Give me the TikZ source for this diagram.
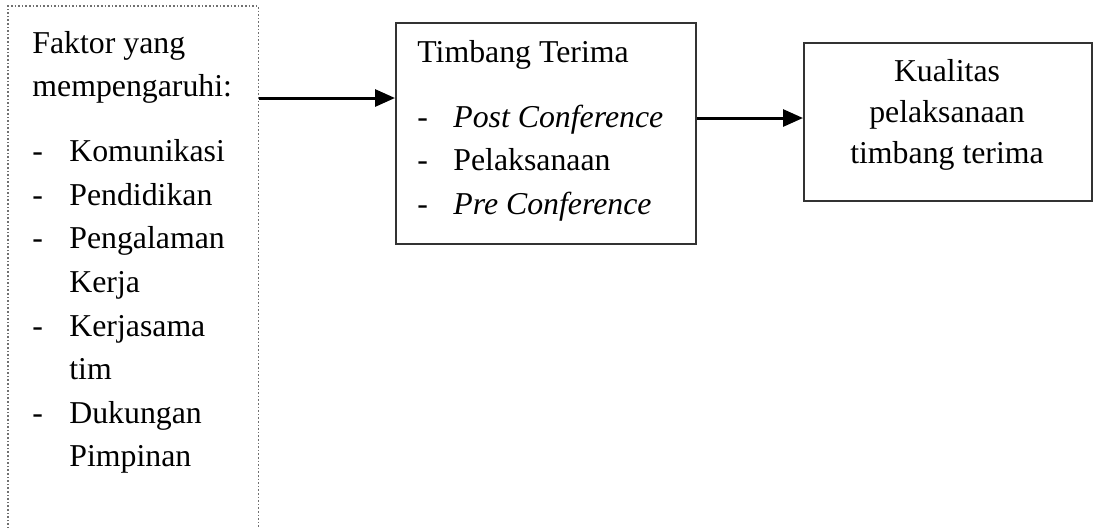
\documentclass[tikz,border=0pt]{standalone}
\usepackage{fontspec}
\setmainfont{Liberation Serif}
\usetikzlibrary{arrows.meta}
\definecolor{garis}{HTML}{333333}
\definecolor{titik}{HTML}{707070}
\newcommand{\isi}{\fontsize{15.9}{21.8}\selectfont}
\newcommand{\isikanan}{\fontsize{15.9}{20.7}\selectfont}
\tikzset{
  kotak/.style={draw=garis, line width=0.75pt, anchor=north west, inner sep=0pt},
  kotaktitik/.style={densely dotted, draw=titik, line width=0.8pt},
  panah/.style={-{Triangle[length=10pt,width=8.5pt]}, line width=1.5pt, draw=black},
  teks/.style={anchor=base west, inner sep=0pt, font=\isi}
}

\begin{document}
\begin{tikzpicture}[x=0.5pt,y=-0.5pt]
  \useasboundingbox (0,0) rectangle (1093,527);
  % kotak
  \node[kotak, draw=none, minimum width=124.5pt, minimum height=260.5pt] (faktor) at (8,6) {};
  \draw[kotaktitik] (faktor.south west) -- (faktor.north west) -- (faktor.north east) -- (faktor.south east);
  \node[kotak, minimum width=150pt, minimum height=110.5pt] (timbang) at (395,22) {};
  \node[kotak, minimum width=144pt, minimum height=79pt] (kualitas) at (803,42) {};
  % isi kotak
  \node[teks] (faktorisi) at (32,53) {\begin{tabular}[t]{@{}p{18.5pt}@{}l@{}}
    \multicolumn{2}{@{}l@{}}{Faktor yang}\\
    \multicolumn{2}{@{}l@{}}{mempengaruhi:}\\[10.7pt]
    - & Komunikasi\\
    - & Pendidikan\\
    - & Pengalaman\\
      & Kerja\\
    - & Kerjasama\\
      & tim\\
    - & Dukungan\\
      & Pimpinan
  \end{tabular}};
  \node[teks] (timbangisi) at (417,62) {\begin{tabular}[t]{@{}p{18pt}@{}l@{}}
    \multicolumn{2}{@{}l@{}}{Timbang Terima}\\[10.7pt]
    - & \textit{Post Conference}\\
    - & Pelaksanaan\\
    - & \textit{Pre Conference}
  \end{tabular}};
  \node[anchor=base, inner sep=0pt, font=\isikanan] (kualitasisi) at (947,81) {\begin{tabular}[t]{@{}c@{}}
    Kualitas\\ pelaksanaan\\ timbang terima
  \end{tabular}};
  % panah
  \coordinate (a1) at (0,98);
  \coordinate (a2) at (0,118);
  \draw[panah] (faktor.east |- a1) -- (timbang.west |- a1);
  \draw[panah] (timbang.east |- a2) -- (kualitas.west |- a2);
\end{tikzpicture}
\end{document}
